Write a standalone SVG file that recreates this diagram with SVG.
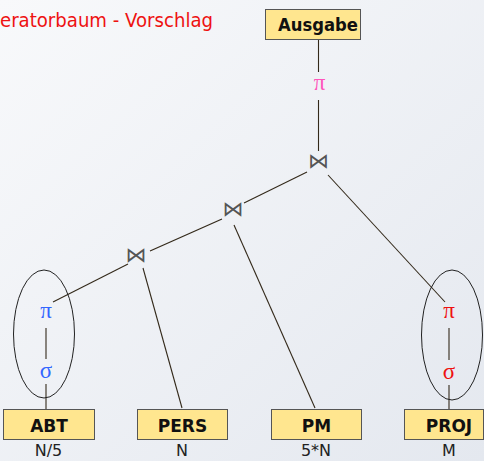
<svg xmlns="http://www.w3.org/2000/svg" width="484" height="461" viewBox="0 0 484 461">
<defs>
<linearGradient id="bg" x1="0" y1="0" x2="1" y2="1">
<stop offset="0" stop-color="#f8f9fb"/>
<stop offset="1" stop-color="#e4e8ef"/>
</linearGradient>
<style>
.box{fill:#ffe68f;stroke:#555;stroke-width:1}
.bl{font-family:"DejaVu Sans",Verdana,sans-serif;font-weight:bold;font-size:17px;fill:#111;text-anchor:middle}
.card{font-family:"DejaVu Sans",Verdana,sans-serif;font-size:16px;fill:#222;text-anchor:middle}
.op{font-family:"Liberation Serif","DejaVu Serif",serif;font-size:23px;text-anchor:middle}
.join{font-family:"DejaVu Sans",sans-serif;font-size:21px;fill:#555;text-anchor:middle}
.ln{stroke:#33291a;stroke-width:1.1;fill:none}
.ell{fill:none;stroke:#222;stroke-width:1}
</style>
</defs>
<rect width="484" height="461" fill="url(#bg)"/>
<text x="0" y="27" font-family="DejaVu Sans,Verdana,sans-serif" font-size="19" fill="#ee1111" textLength="213" lengthAdjust="spacingAndGlyphs">eratorbaum - Vorschlag</text>
<g id="connectors">
<line class="ln" x1="318.5" y1="39" x2="318.5" y2="72"/>
<line class="ln" x1="318.5" y1="100" x2="318.5" y2="151"/>
<line class="ln" x1="307" y1="172" x2="244" y2="203"/>
<line class="ln" x1="328" y1="175" x2="445" y2="302"/>
<line class="ln" x1="222" y1="219" x2="150" y2="251"/>
<line class="ln" x1="234" y1="225" x2="315" y2="408"/>
<line class="ln" x1="143" y1="268" x2="182" y2="408"/>
<line class="ln" x1="128" y1="264" x2="53" y2="302"/>
<line class="ln" x1="46" y1="328" x2="46" y2="359"/>
<line class="ln" x1="46" y1="384" x2="46" y2="409"/>
<line class="ln" x1="449" y1="328" x2="449" y2="360"/>
<line class="ln" x1="449" y1="385" x2="449" y2="409"/>
</g>
<g id="ausgabe">
<rect class="box" x="265.5" y="9.5" width="95" height="30"/>
<text class="bl" x="318" y="30.5" font-size="16" textLength="80" lengthAdjust="spacingAndGlyphs">Ausgabe</text>
</g>
<g id="pi-top"><text class="op" x="319.5" y="89.5" fill="#ff55bb">π</text></g>
<g id="join1"><text class="join" x="318.5" y="168">⋈</text></g>
<g id="join2"><text class="join" x="233" y="216">⋈</text></g>
<g id="join3"><text class="join" x="136" y="262">⋈</text></g>
<g id="abt-group">
<ellipse class="ell" cx="44" cy="334" rx="30.5" ry="64"/>
<text class="op" x="46" y="317.5" fill="#3366ff">π</text>
<text class="op" x="46" y="378" fill="#3366ff">σ</text>
</g>
<g id="proj-group">
<ellipse class="ell" cx="452" cy="335" rx="30.5" ry="65"/>
<text class="op" x="449" y="317.5" fill="#ee1111">π</text>
<text class="op" x="449" y="379" fill="#ee1111">σ</text>
</g>
<g id="abt">
<rect class="box" x="3.5" y="409.5" width="91" height="30"/>
<text class="bl" x="49" y="432">ABT</text>
<text class="card" x="48.5" y="456">N/5</text>
</g>
<g id="pers">
<rect class="box" x="137.5" y="409.5" width="90" height="30"/>
<text class="bl" x="182.5" y="432">PERS</text>
<text class="card" x="182" y="456">N</text>
</g>
<g id="pm">
<rect class="box" x="271.5" y="409.5" width="90" height="30"/>
<text class="bl" x="316.5" y="432">PM</text>
<text class="card" x="316" y="456">5*N</text>
</g>
<g id="proj">
<rect class="box" x="404.5" y="409.5" width="79" height="30"/>
<text class="bl" x="449" y="432">PROJ</text>
<text class="card" x="449" y="456">M</text>
</g>
</svg>
